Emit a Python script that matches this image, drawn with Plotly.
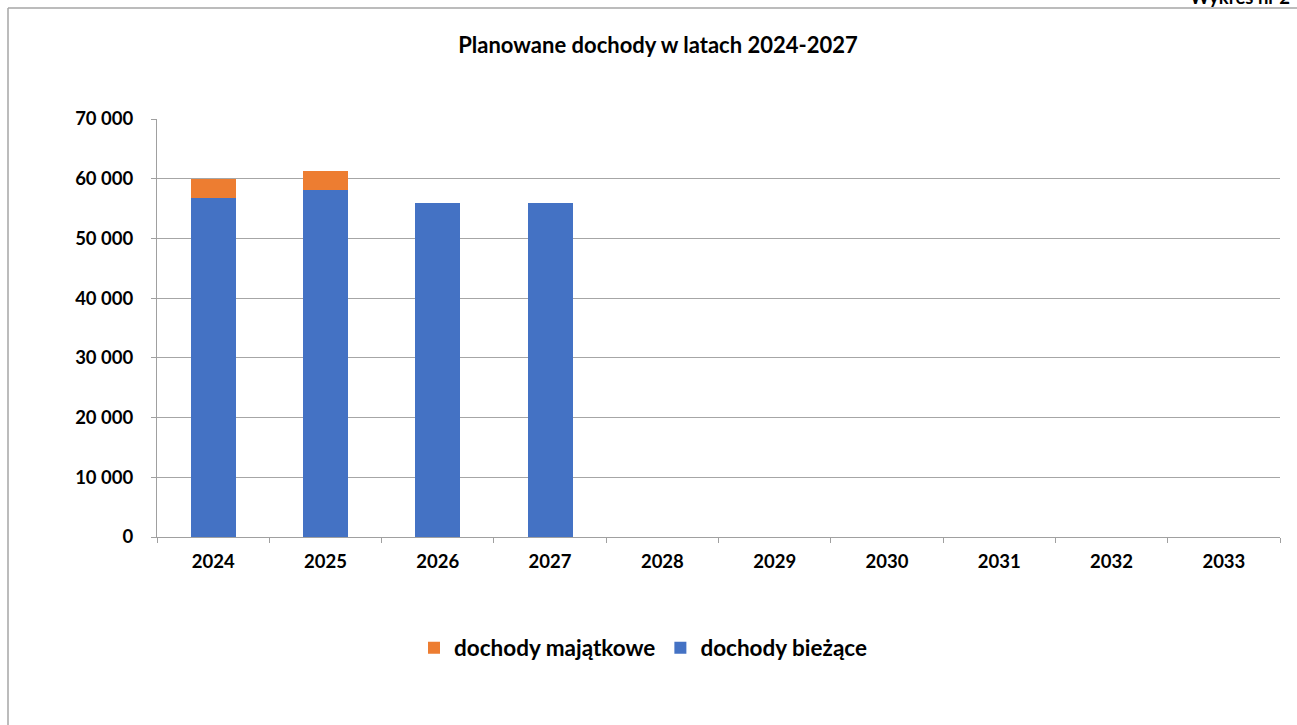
import plotly.graph_objects as go

years = ["2024", "2025", "2026", "2027", "2028", "2029", "2030", "2031", "2032", "2033"]
dochody_biezace = [56700, 58150, 56000, 56000, None, None, None, None, None, None]
dochody_majatkowe = [3200, 3150, None, None, None, None, None, None, None, None]

title_text = "Planowane dochody w latach 2024-2027"
corner_text = "Wykres nr 2"
y_ticks = [0, 10000, 20000, 30000, 40000, 50000, 60000, 70000]

FONT = "Lato"
W, H = 1297, 725
L, R, T, B = 157, 1280, 119, 537

fig = go.Figure()
fig.add_trace(go.Bar(x=years, y=dochody_biezace, name="dochody bieżące",
                     marker=dict(color="#4472C4", line=dict(width=0))))
fig.add_trace(go.Bar(x=years, y=dochody_majatkowe, name="dochody majątkowe",
                     marker=dict(color="#ED7D31", line=dict(width=0))))

px = lambda x: (x - L) / (R - L)
py = lambda y: (B - y) / (B - T)

bold = lambda s: dict(family=FONT, size=s, color="black", weight="bold")

fig.update_layout(
    width=W, height=H,
    margin=dict(l=L, r=W - R, t=T, b=H - B, pad=0, autoexpand=False),
    barmode="stack", bargap=0.6,
    plot_bgcolor="white", paper_bgcolor="white",
    separators=", ",
    font=bold(18.5),
    title=dict(text=title_text, x=658 / W, xanchor="center",
               y=1 - 45 / H, yanchor="middle", font=bold(22)),
    showlegend=True,
    legend=dict(orientation="h", traceorder="reversed", x=px(643), xanchor="center",
                y=py(648), yanchor="middle", font=bold(22.5), itemwidth=30),
    xaxis=dict(type="category", showgrid=False, showline=True, linecolor="#A0A0A0", linewidth=1,
               ticks="outside", tickson="boundaries", ticklen=5, tickcolor="#A0A0A0",
               tickfont=bold(18.5), ticklabelstandoff=8, automargin=False, tickangle=0),
    yaxis=dict(range=[0, 70000], tickvals=y_ticks, tickformat=",d", showgrid=True,
               gridcolor="#A6A6A6", gridwidth=1.2, showline=True, linecolor="#A0A0A0", linewidth=1,
               ticks="outside", ticklen=5, tickcolor="#A0A0A0", zeroline=False,
               tickfont=bold(18.5), ticklabelstandoff=14, automargin=False),
)

# frame
fig.add_shape(type="line", xref="paper", yref="paper", x0=px(8), x1=px(8), y0=py(8), y1=py(H + 5),
              line=dict(color="#A6A6A6", width=1.5))
fig.add_shape(type="line", xref="paper", yref="paper", x0=px(8), x1=px(W + 5), y0=py(8), y1=py(8),
              line=dict(color="#A6A6A6", width=1.5))

fig.add_annotation(text="<b>" + corner_text + "</b>", xref="paper", yref="paper", x=px(1292), xanchor="right",
                   y=py(10), yanchor="bottom", showarrow=False, font=bold(18.5))

fig.write_html("out.html", config={"displayModeBar": False},
               post_script="document.body.style.margin='0';")
